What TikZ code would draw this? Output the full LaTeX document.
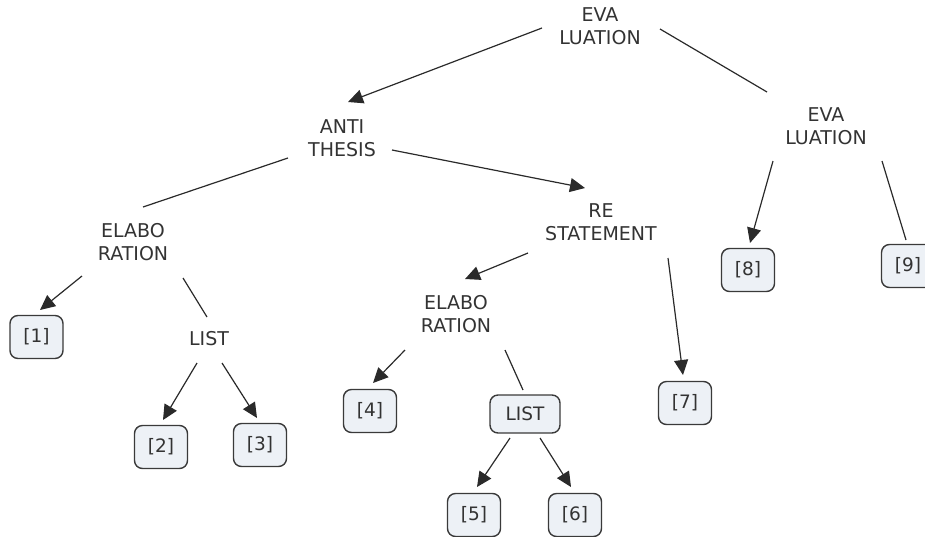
\documentclass[tikz,border=0pt]{standalone}
\usepackage{fontspec}
\setmainfont{DejaVu Sans}
\usetikzlibrary{arrows.meta}
\definecolor{txt}{HTML}{333333}
\definecolor{boxfill}{HTML}{EDF1F6}
\definecolor{boxline}{HTML}{3A3A3A}
\definecolor{edge}{HTML}{2A2A2A}
\begin{document}
\begin{tikzpicture}[x=1pt,y=-1pt,
  lbl/.style={align=center,text=txt,font=\fontsize{19}{22.5}\selectfont,inner sep=0pt},
  leaf/.style={draw=boxline,fill=boxfill,line width=1.4pt,rounded corners=8pt,
    minimum width=53pt,minimum height=43pt,inner sep=0pt,text=txt,
    font=\fontsize{18.5}{22}\selectfont},
  ln/.style={draw=edge,line width=1.2pt},
  arr/.style={ln,-{Triangle[length=15pt,width=14pt]}}
]
\useasboundingbox (0,0) rectangle (925,536);

\node[lbl] (eva) at (600,26) {EVA\\LUATION};
\node[lbl] (anti) at (342,138) {ANTI\\THESIS};
\node[lbl] (evar) at (826,126) {EVA\\LUATION};
\node[lbl] (elabo1) at (133,242) {ELABO\\RATION};
\node[lbl] (re) at (601,222) {RE\\STATEMENT};
\node[lbl] (list1) at (209,339) {LIST};
\node[lbl] (elabo2) at (456,314) {ELABO\\RATION};
\node[leaf] (b1) at (36.5,337) {[1]};
\node[leaf] (b2) at (161,447) {[2]};
\node[leaf] (b3) at (260,445) {[3]};
\node[leaf] (b4) at (370,411) {[4]};
\node[leaf,minimum width=70pt,minimum height=38pt] (list2) at (525,414) {LIST};
\node[leaf] (b5) at (474,515) {[5]};
\node[leaf] (b6) at (575,515) {[6]};
\node[leaf] (b7) at (685,403) {[7]};
\node[leaf] (b8) at (748,270) {[8]};
\node[leaf] (b9) at (908,266) {[9]};

\draw[arr] ([shift={(-58,2)}]eva.center) -- ([shift={(6,-36)}]anti.center);
\draw[ln]  ([shift={(60,3)}]eva.center) -- ([shift={(-59,-34)}]evar.center);
\draw[ln]  ([shift={(-54,20)}]anti.center) -- ([shift={(10,-35)}]elabo1.center);
\draw[arr] ([shift={(50,12)}]anti.center) -- ([shift={(-16,-34)}]re.center);
\draw[arr] ([shift={(-51,34)}]elabo1.center) -- ([shift={(3.5,-27)}]b1.center);
\draw[ln]  ([shift={(50,36)}]elabo1.center) -- ([shift={(-2,-22)}]list1.center);
\draw[arr] ([shift={(-12,24)}]list1.center) -- ([shift={(2,-27)}]b2.center);
\draw[arr] ([shift={(13,24)}]list1.center) -- ([shift={(-3,-27)}]b3.center);
\draw[arr] ([shift={(-73,31)}]re.center) -- ([shift={(9,-35)}]elabo2.center);
\draw[arr] ([shift={(67,36)}]re.center) -- ([shift={(-2,-28)}]b7.center);
\draw[arr] ([shift={(-51,36)}]elabo2.center) -- ([shift={(3,-28)}]b4.center);
\draw[ln]  ([shift={(49,36)}]elabo2.center) -- ([shift={(-2,-24)}]list2.center);
\draw[arr] ([shift={(-15,24)}]list2.center) -- ([shift={(3,-28)}]b5.center);
\draw[arr] ([shift={(15,24)}]list2.center) -- ([shift={(-4,-28)}]b6.center);
\draw[arr] ([shift={(-53,35)}]evar.center) -- ([shift={(2,-27)}]b8.center);
\draw[ln]  ([shift={(56,35)}]evar.center) -- ([shift={(-2,-26)}]b9.center);
\end{tikzpicture}
\end{document}
